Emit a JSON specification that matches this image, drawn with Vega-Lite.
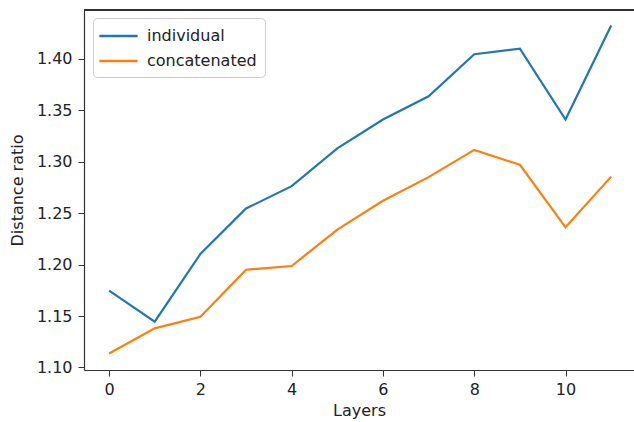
{
  "$schema": "https://vega.github.io/schema/vega-lite/v6.json",
  "width": 550,
  "height": 360,
  "autosize": {"type": "none"},
  "padding": {"left": 84, "top": 10, "right": 0, "bottom": 52},
  "background": "white",
  "config": {"view": {"stroke": null}, "font": "DejaVu Sans"},
  "data": {"values": [
    {"layer": 0, "value": 1.1746, "series": "individual"},
    {"layer": 1, "value": 1.1445, "series": "individual"},
    {"layer": 2, "value": 1.2103, "series": "individual"},
    {"layer": 3, "value": 1.2545, "series": "individual"},
    {"layer": 4, "value": 1.2762, "series": "individual"},
    {"layer": 5, "value": 1.3130, "series": "individual"},
    {"layer": 6, "value": 1.3410, "series": "individual"},
    {"layer": 7, "value": 1.3636, "series": "individual"},
    {"layer": 8, "value": 1.4045, "series": "individual"},
    {"layer": 9, "value": 1.4100, "series": "individual"},
    {"layer": 10, "value": 1.3410, "series": "individual"},
    {"layer": 11, "value": 1.4324, "series": "individual"},
    {"layer": 0, "value": 1.1136, "series": "concatenated"},
    {"layer": 1, "value": 1.1380, "series": "concatenated"},
    {"layer": 2, "value": 1.1493, "series": "concatenated"},
    {"layer": 3, "value": 1.1950, "series": "concatenated"},
    {"layer": 4, "value": 1.1986, "series": "concatenated"},
    {"layer": 5, "value": 1.2340, "series": "concatenated"},
    {"layer": 6, "value": 1.2620, "series": "concatenated"},
    {"layer": 7, "value": 1.2850, "series": "concatenated"},
    {"layer": 8, "value": 1.3115, "series": "concatenated"},
    {"layer": 9, "value": 1.2970, "series": "concatenated"},
    {"layer": 10, "value": 1.2362, "series": "concatenated"},
    {"layer": 11, "value": 1.2855, "series": "concatenated"}
  ]},
  "layer": [
    {
      "mark": {"type": "line", "strokeWidth": 2.2, "clip": true},
      "encoding": {
        "x": {
          "field": "layer", "type": "quantitative",
          "scale": {"domain": [-0.55, 11.5], "nice": false, "zero": false},
          "axis": {
            "title": "Layers", "values": [0, 2, 4, 6, 8, 10], "format": "d", "grid": false,
            "domainColor": "#333", "domainWidth": 1.2, "tickColor": "#333", "tickSize": 6, "tickWidth": 1,
            "labelFontSize": 16, "labelColor": "#222", "labelPadding": 5,
            "titleFontSize": 16, "titleFontWeight": "normal", "titleColor": "#222", "titlePadding": 5
          }
        },
        "y": {
          "field": "value", "type": "quantitative",
          "scale": {"domain": [1.0975, 1.4475], "nice": false, "zero": false},
          "axis": {
            "title": "Distance ratio", "values": [1.10, 1.15, 1.20, 1.25, 1.30, 1.35, 1.40], "format": ".2f", "grid": false,
            "domainColor": "#333", "domainWidth": 1.2, "tickColor": "#333", "tickSize": 6, "tickWidth": 1,
            "labelFontSize": 16, "labelColor": "#222", "labelPadding": 6,
            "titleFontSize": 16, "titleFontWeight": "normal", "titleColor": "#222", "titlePadding": 11
          }
        },
        "color": {
          "field": "series", "type": "nominal",
          "scale": {"domain": ["individual", "concatenated"], "range": ["#1f77b4", "#ff7f0e"]},
          "legend": {
            "title": null, "orient": "none", "legendX": 9, "legendY": 8,
            "symbolType": "M-2.25,0H2.25", "symbolSize": 289, "symbolStrokeWidth": 2.5,
            "symbolOffset": 7.5,
            "labelFontSize": 16, "labelColor": "#222", "labelOffset": 18.5,
            "padding": 8, "rowPadding": 7,
            "strokeColor": "#ccc", "fillColor": "white", "cornerRadius": 4
          }
        }
      }
    },
    {
      "mark": {"type": "rule", "color": "#333", "strokeWidth": 1.2},
      "encoding": {"y": {"datum": 1.4475}}
    }
  ]
}
